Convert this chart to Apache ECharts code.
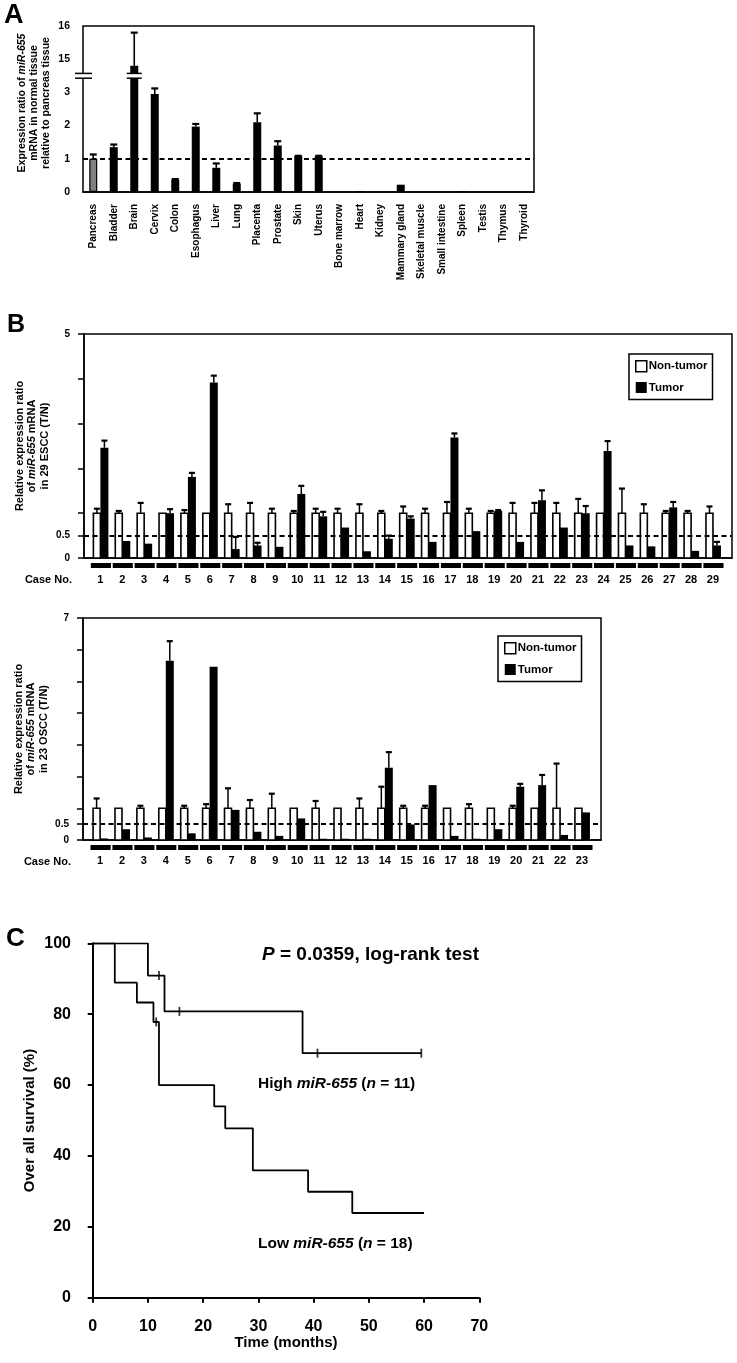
<!DOCTYPE html>
<html><head><meta charset="utf-8">
<script src="https://cdn.jsdelivr.net/npm/echarts@6/dist/echarts.min.js"></script>
<style>html,body{margin:0;padding:0;background:#fff}#c{width:737px;height:1363px}</style>
</head><body><div id="c"></div>
<script>
// ---------- Panel A: normal tissues ----------
const tissues = ['Pancreas','Bladder','Brain','Cervix','Colon','Esophagus','Liver','Lung','Placenta','Prostate','Skin','Uterus','Bone marrow','Heart','Kidney','Mammary gland','Skeletal muscle','Small intestine','Spleen','Testis','Thymus','Thyroid'];
const tissueRatio = [1.0,1.35,14.8,2.95,0.37,1.97,0.73,0.25,2.1,1.4,1.08,1.07,0,0.03,0,0.22,0,0,0.03,0,0,0];
const tissueErr   = [0.13,0.08,1.0,0.17,0.02,0.08,0.13,0.02,0.27,0.13,0.01,0.02,0,0,0,0,0,0,0,0,0,0];
const tissueTicks = [0,1,2,3,15,16];
const breakLow = 3, breakHigh = 15;

// ---------- Panel B: ESCC ----------
const esccCases = [1,2,3,4,5,6,7,8,9,10,11,12,13,14,15,16,17,18,19,20,21,22,23,24,25,26,27,28,29];
const esccNT    = [1,1,1,1,1,1,1,1,1,1,1,1,1,1,1,1,1,1,1,1,1,1,1,1,1,1,1,1,1];
const esccNTerr = [0.1,0.05,0.23,0,0.07,0,0.2,0.23,0.1,0.05,0.1,0.1,0.2,0.05,0.15,0.1,0.25,0.1,0.05,0.23,0.23,0.23,0.32,0,0.55,0.2,0.05,0.05,0.15];
const esccT     = [2.46,0.38,0.32,1.0,1.81,3.92,0.2,0.28,0.25,1.43,0.93,0.68,0.15,0.43,0.88,0.36,2.69,0.6,1.05,0.36,1.29,0.68,1.0,2.39,0.28,0.26,1.13,0.16,0.28];
const esccTerr  = [0.16,0,0,0.09,0.09,0.15,0.27,0.06,0,0.18,0.1,0,0,0.07,0.05,0,0.09,0,0.02,0,0.22,0,0.16,0.22,0,0,0.12,0,0.08];
const esccTickVals  = [0,0.5,1,2,3,4,5];
const esccLabelVals = [0,0.5,5];

// ---------- Panel B: OSCC ----------
const osccCases = [1,2,3,4,5,6,7,8,9,10,11,12,13,14,15,16,17,18,19,20,21,22,23];
const osccNT    = [1,1,1,1,1,1,1,1,1,1,1,1,1,1,1,1,1,1,1,1,1,1,1];
const osccNTerr = [0.31,0,0.08,0,0.08,0.13,0.63,0.26,0.46,0,0.23,0,0.31,0.68,0.08,0.08,0,0.13,0,0.08,0,1.41,0];
const osccT     = [0.05,0.34,0.08,5.65,0.21,5.46,0.95,0.26,0.13,0.68,0.04,0.04,0.04,2.28,0.49,1.73,0.13,0.04,0.34,1.68,1.73,0.16,0.87];
const osccTerr  = [0,0,0,0.62,0,0,0,0,0,0,0,0,0,0.49,0,0,0,0,0,0.09,0.32,0,0];
const osccTickVals  = [0,0.5,1,2,3,4,5,6,7];
const osccLabelVals = [0,0.5,7];

// ---------- Panel C: Kaplan-Meier ----------
const highTime = [0,10,13,38,59.5];
const highSurv = [100,90.9,80.8,69.0,69.0];
const highCensorTime = [12,15.7,40.7,59.5];
const highCensorSurv = [90.9,80.8,69.0,69.0];
const lowTime = [0,4,8,11,12,22,24,29,39,47,60];
const lowSurv = [100,88.9,83.3,77.8,60,54,47.8,35.9,29.9,23.9,23.9];
const lowCensorTime = [11.5];
const lowCensorSurv = [77.8];

const FONT = '"Liberation Sans", Arial, Helvetica, sans-serif';
const BLACK = '#000';

function brokenY(v){ return v >= breakHigh - 0.5 ? v - (breakHigh - breakLow - 1) : v; }
const tissueTickPos = tissueTicks.map(brokenY);

function errRenderA(params, api){
  const i = api.value(0), v = api.value(1), e = api.value(2);
  if (!(e > 0)) return null;
  const p1 = api.coord([i, brokenY(v)]);
  const p2 = api.coord([i, brokenY(v + e)]);
  return {type:'group', children:[
    {type:'line', shape:{x1:p1[0],y1:p1[1],x2:p1[0],y2:p2[1]}, style:{stroke:BLACK,lineWidth:1.6}},
    {type:'line', shape:{x1:p1[0]-3.5,y1:p2[1],x2:p1[0]+3.5,y2:p2[1]}, style:{stroke:BLACK,lineWidth:2.2}}
  ]};
}
function breakRender(params, api){
  const p = api.coord([api.value(0), api.value(1)]);
  const ax = params.coordSys.x;
  const y = p[1];
  const mk = (x0, w) => [
    {type:'rect', shape:{x:x0,y:y-2.2,width:w,height:4.4}, style:{fill:'#fff'}},
    {type:'line', shape:{x1:x0,y1:y-2.4,x2:x0+w,y2:y-2.4}, style:{stroke:BLACK,lineWidth:1.5}},
    {type:'line', shape:{x1:x0,y1:y+2.4,x2:x0+w,y2:y+2.4}, style:{stroke:BLACK,lineWidth:1.5}}
  ];
  return {type:'group', children: mk(ax-8, 17).concat(mk(p[0]-7.5, 15))};
}
function pairRender(side){
  return function(params, api){
    const c = api.value(0), v = api.value(1), e = api.value(2);
    const p0 = api.coord([c, 0]);
    const p1 = api.coord([c, v]);
    const W = side < 0 ? 7 : 8;
    const x0 = side < 0 ? p0[0] - W : p0[0];
    const children = [{type:'rect', shape:{x:x0, y:p1[1], width:W, height:p0[1]-p1[1]},
      style: side < 0 ? {fill:'#fff', stroke:BLACK, lineWidth:1.6} : {fill:BLACK}}];
    if (e > 0) {
      const p2 = api.coord([c, v + e]);
      const cx = x0 + W/2;
      children.push({type:'line', shape:{x1:cx,y1:p1[1],x2:cx,y2:p2[1]}, style:{stroke:BLACK,lineWidth:1.5}});
      children.push({type:'line', shape:{x1:cx-3,y1:p2[1],x2:cx+3,y2:p2[1]}, style:{stroke:BLACK,lineWidth:2.2}});
    }
    return {type:'group', children};
  };
}
function dashRender(params, api){
  const c = api.value(0);
  const p = api.coord([c, 0]);
  const w = api.size([1, 0])[0] * 0.92;
  return {type:'rect', shape:{x:p[0]+0.5-w/2, y:p[1]+5, width:w, height:5}, style:{fill:BLACK}};
}

const axisText = {color:BLACK, fontWeight:'bold', fontFamily:FONT};
const markDashed = (y) => ({silent:true, symbol:['none','none'], label:{show:false},
  lineStyle:{color:BLACK, type:[5,3.5], width:1.8}, emphasis:{disabled:true}, data:[{yAxis:y}]});

function caseXAxis(grid, cases, min, max, margin){
  return {gridIndex:grid, type:'value', min:min, max:max,
    axisLine:{lineStyle:{color:BLACK,width:1.5}}, axisTick:{show:false}, splitLine:{show:false},
    axisLabel:Object.assign({customValues:cases, formatter:v=>String(v), fontSize:11, margin:margin}, axisText),
    name:'Case No.', nameLocation:'start', nameGap:12,
    nameTextStyle:Object.assign({fontSize:11, align:'right', verticalAlign:'top', padding:[16,0,0,0]}, axisText)};
}
function ratioYAxis(grid, max, ticks, labels, name){
  return {gridIndex:grid, type:'value', min:0, max:max,
    axisLine:{lineStyle:{color:BLACK,width:1.5}},
    axisTick:{customValues:ticks, length:6, lineStyle:{color:BLACK,width:1.5}},
    axisLabel:Object.assign({customValues:labels, formatter:v=>String(v), fontSize:10, margin:14}, axisText),
    splitLine:{show:false},
    name:name, nameLocation:'middle', nameRotate:90, nameGap:33, nameMoveOverlap:false,
    nameTextStyle:Object.assign({fontSize:11, lineHeight:12.5,
      rich:{i:{fontStyle:'italic', fontWeight:'bold', fontSize:11, lineHeight:12.5, fontFamily:FONT, color:BLACK}}}, axisText)};
}
function legendAt(left, top){
  return {left:left, top:top, orient:'vertical', selectedMode:false,
    borderColor:BLACK, borderWidth:1.5, padding:[6,5,6,6], itemGap:9, itemWidth:11, itemHeight:11,
    textStyle:Object.assign({fontSize:11.5, padding:[0,0,0,-3]}, axisText),
    data:[{name:'Non-tumor', icon:'rect', itemStyle:{color:'#fff', borderColor:BLACK, borderWidth:1.5}},
          {name:'Tumor', icon:'rect', itemStyle:{color:BLACK, borderWidth:0}}]};
}
function pairSeries(grid, cases, nt, ntErr, t, tErr){
  return [
    {type:'custom', name:'Non-tumor', xAxisIndex:grid, yAxisIndex:grid, renderItem:pairRender(-1),
      itemStyle:{color:'#fff', borderColor:BLACK}, encode:{x:0,y:1}, z:2,
      data:cases.map((c,i)=>[c, nt[i], ntErr[i]])},
    {type:'custom', name:'Tumor', xAxisIndex:grid, yAxisIndex:grid, renderItem:pairRender(1),
      itemStyle:{color:BLACK}, encode:{x:0,y:1}, z:3,
      data:cases.map((c,i)=>[c, t[i], tErr[i]]), markLine:markDashed(0.5)},
    {type:'custom', xAxisIndex:grid, yAxisIndex:grid, renderItem:dashRender, clip:false, silent:true,
      encode:{x:0,y:1}, data:cases.map(c=>[c,0])}
  ];
}

const chart = echarts.init(document.getElementById('c'), null, {renderer:'canvas', width:737, height:1363});
const gridBase = {show:true, borderColor:BLACK, borderWidth:1.5, containLabel:false, outerBoundsMode:'none', backgroundColor:'transparent'};

const option = {
  animation:false,
  backgroundColor:'#fff',
  textStyle:{fontFamily:FONT},
  grid:[
    Object.assign({left:83, top:26, width:451, height:166}, gridBase),
    Object.assign({left:84, top:334, width:648, height:224}, gridBase),
    Object.assign({left:83, top:618, width:518, height:222}, gridBase),
    {left:92.7, top:943.3, width:386.6, height:354.4, show:false, containLabel:false, outerBoundsMode:'none'}
  ],
  legend:[legendAt(629,354), legendAt(498,636)],
  xAxis:[
    {gridIndex:0, type:'category', data:tissues, boundaryGap:true,
      axisLine:{lineStyle:{color:BLACK,width:1.5}}, axisTick:{show:false}, splitLine:{show:false},
      axisLabel:Object.assign({interval:0, rotate:90, fontSize:10, margin:12}, axisText)},
    caseXAxis(1, esccCases, 0.25, 29.87, 16),
    caseXAxis(2, osccCases, 0.22, 23.87, 15.5),
    {gridIndex:3, type:'value', min:0, max:70, interval:10, offset:10.6,
      axisLine:{lineStyle:{color:BLACK,width:2}}, axisTick:{length:5, lineStyle:{color:BLACK,width:2}},
      splitLine:{show:false},
      axisLabel:Object.assign({fontSize:16, margin:10}, axisText),
      name:'Time (months)', nameLocation:'middle', nameGap:27,
      nameTextStyle:Object.assign({fontSize:15}, axisText)}
  ],
  yAxis:[
    {gridIndex:0, type:'value', min:0, max:5,
      axisLine:{lineStyle:{color:BLACK,width:1.5}},
      axisTick:{customValues:tissueTickPos, length:6, lineStyle:{color:BLACK,width:1.5}},
      axisLabel:Object.assign({customValues:tissueTickPos, fontSize:10.5, margin:13,
        formatter:v=>String(tissueTicks[tissueTickPos.indexOf(v)])}, axisText),
      splitLine:{show:false},
      name:'Expression ratio of {i|miR-655}\nmRNA in normal tissue\nrelative to pancreas tissue',
      nameLocation:'middle', nameRotate:90, nameGap:31, nameMoveOverlap:false,
      nameTextStyle:Object.assign({fontSize:10.5, lineHeight:12, padding:[0,0,0,12],
        rich:{i:{fontStyle:'italic', fontWeight:'bold', fontSize:10.5, lineHeight:12, fontFamily:FONT, color:BLACK}}}, axisText)},
    ratioYAxis(1, 5, esccTickVals, esccLabelVals, 'Relative expression ratio\nof {i|miR-655} mRNA\nin 29 ESCC (T/N)'),
    ratioYAxis(2, 7, osccTickVals, osccLabelVals, 'Relative expression ratio\nof {i|miR-655} mRNA\nin 23 OSCC (T/N)'),
    {gridIndex:3, type:'value', min:0, max:100, interval:20, offset:9.7,
      axisLine:{lineStyle:{color:BLACK,width:2}}, axisTick:{length:5, lineStyle:{color:BLACK,width:2}},
      splitLine:{show:false},
      axisLabel:Object.assign({fontSize:16, margin:12}, axisText),
      name:'Over all survival (%)', nameLocation:'middle', nameRotate:90, nameGap:46, nameMoveOverlap:false,
      nameTextStyle:Object.assign({fontSize:15}, axisText)}
  ],
  series:[
    {type:'bar', xAxisIndex:0, yAxisIndex:0, barWidth:8, z:2,
      itemStyle:{color:BLACK},
      data:tissueRatio.map((v,i)=> i===0 ? {value:brokenY(v), itemStyle:{color:'#7f7f7f', borderColor:BLACK, borderWidth:1.2}} : brokenY(v)),
      markLine:markDashed(1)},
    {type:'custom', xAxisIndex:0, yAxisIndex:0, renderItem:errRenderA, encode:{x:0,y:1}, z:3,
      data:tissueRatio.map((v,i)=>[i, v, tissueErr[i]])},
    {type:'custom', xAxisIndex:0, yAxisIndex:0, renderItem:breakRender, clip:false, z:6, silent:true,
      encode:{x:0,y:1}, data:[[tissues.indexOf('Brain'), breakLow + 0.5]]}
  ].concat(
    pairSeries(1, esccCases, esccNT, esccNTerr, esccT, esccTerr),
    pairSeries(2, osccCases, osccNT, osccNTerr, osccT, osccTerr),
    [
      {type:'line', xAxisIndex:3, yAxisIndex:3, step:'end', symbol:'none', lineStyle:{color:BLACK,width:1.8},
        data:highTime.map((t,i)=>[t, highSurv[i]])},
      {type:'line', xAxisIndex:3, yAxisIndex:3, step:'end', symbol:'none', lineStyle:{color:BLACK,width:1.8},
        data:lowTime.map((t,i)=>[t, lowSurv[i]])},
      {type:'scatter', xAxisIndex:3, yAxisIndex:3, symbol:'rect', symbolSize:[1.8,9], itemStyle:{color:BLACK}, z:4,
        data:highCensorTime.map((t,i)=>[t, highCensorSurv[i]])},
      {type:'scatter', xAxisIndex:3, yAxisIndex:3, symbol:'rect', symbolSize:[1.8,9], itemStyle:{color:BLACK}, z:4,
        data:lowCensorTime.map((t,i)=>[t, lowCensorSurv[i]])}
    ]
  ),
  graphic:[
    {type:'text', left:4, top:2, style:{text:'A', fill:BLACK, font:'bold 27px '+FONT}},
    {type:'text', left:7, top:313, style:{text:'B', fill:BLACK, font:'bold 25px '+FONT}},
    {type:'text', left:6, top:926, style:{text:'C', fill:BLACK, font:'bold 26px '+FONT}},
    {type:'text', left:262, top:945, style:{text:'{i|P}{b| = 0.0359, log-rank test}', fill:BLACK,
      rich:{i:{fontStyle:'italic', fontWeight:'bold', fontSize:19, fontFamily:FONT, fill:BLACK},
            b:{fontWeight:'bold', fontSize:19, fontFamily:FONT, fill:BLACK}}}},
    {type:'text', left:258, top:1076, style:{text:'{b|High }{i|miR-655}{b| (}{i|n}{b| = 11)}', fill:BLACK,
      rich:{i:{fontStyle:'italic', fontWeight:'bold', fontSize:15.5, fontFamily:FONT, fill:BLACK},
            b:{fontWeight:'bold', fontSize:15.5, fontFamily:FONT, fill:BLACK}}}},
    {type:'text', left:258, top:1236, style:{text:'{b|Low }{i|miR-655}{b| (}{i|n}{b| = 18)}', fill:BLACK,
      rich:{i:{fontStyle:'italic', fontWeight:'bold', fontSize:15.5, fontFamily:FONT, fill:BLACK},
            b:{fontWeight:'bold', fontSize:15.5, fontFamily:FONT, fill:BLACK}}}}
  ]
};
chart.setOption(option);
</script>
</body></html>
